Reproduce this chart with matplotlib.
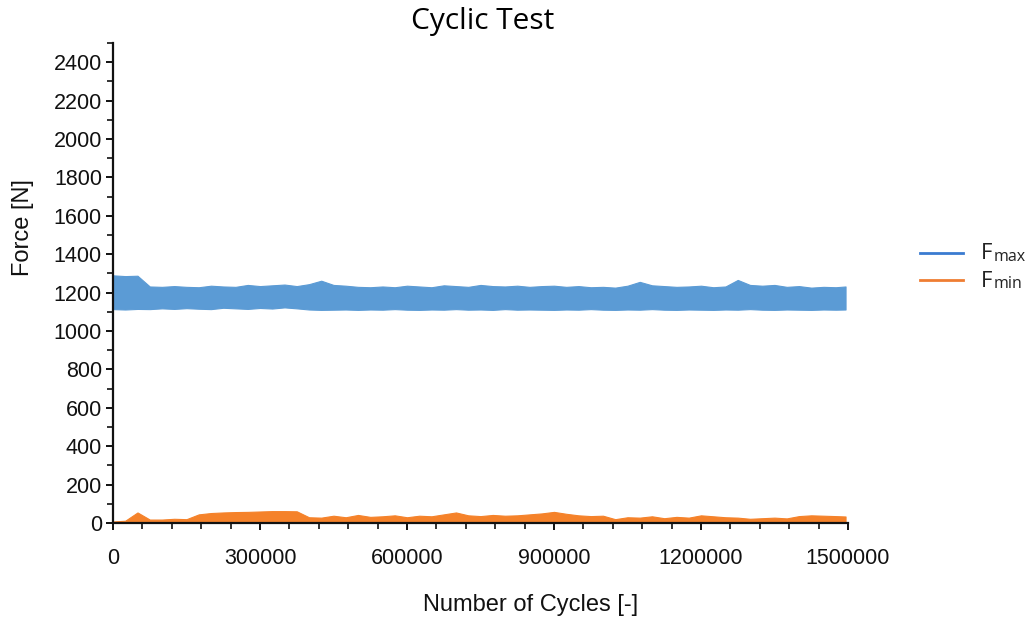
import matplotlib.pyplot as plt
from matplotlib.ticker import MultipleLocator
from matplotlib.lines import Line2D

# cycles sampled every 25000, last point at the end of the test
cycles = [0, 25000, 50000, 75000, 100000, 125000, 150000, 175000, 200000, 225000,
          250000, 275000, 300000, 325000, 350000, 375000, 400000, 425000, 450000, 475000,
          500000, 525000, 550000, 575000, 600000, 625000, 650000, 675000, 700000, 725000,
          750000, 775000, 800000, 825000, 850000, 875000, 900000, 925000, 950000, 975000,
          1000000, 1025000, 1050000, 1075000, 1100000, 1125000, 1150000, 1175000, 1200000, 1225000,
          1250000, 1275000, 1300000, 1325000, 1350000, 1375000, 1400000, 1425000, 1450000, 1475000,
          1495000]

# upper / lower envelope of the max force signal [N]
fmax_upper = [1290, 1286, 1288, 1232, 1230, 1234, 1230, 1228, 1236, 1232,
              1230, 1240, 1234, 1238, 1242, 1234, 1244, 1262, 1240, 1236,
              1230, 1228, 1232, 1228, 1236, 1232, 1228, 1238, 1234, 1230,
              1240, 1234, 1232, 1236, 1230, 1234, 1236, 1230, 1234, 1228,
              1230, 1226, 1236, 1256, 1238, 1234, 1230, 1232, 1236, 1228,
              1232, 1266, 1240, 1236, 1240, 1230, 1234, 1226, 1230, 1228,
              1232]
fmax_lower = [1114, 1112, 1115, 1114, 1118, 1115, 1119, 1116, 1114, 1121,
              1118, 1115, 1120, 1117, 1123, 1118, 1112, 1110, 1111, 1112,
              1110, 1112, 1111, 1114, 1111, 1110, 1112, 1111, 1114, 1111,
              1112, 1110, 1114, 1111, 1112, 1111, 1110, 1112, 1111, 1114,
              1111, 1110, 1112, 1111, 1114, 1111, 1110, 1112, 1111, 1110,
              1112, 1111, 1114, 1111, 1110, 1112, 1111, 1110, 1112, 1111,
              1112]

# upper envelope of the min force signal [N]
fmin_upper = [8, 12, 55, 18, 18, 22, 20, 45, 52, 55,
              57, 58, 60, 62, 62, 61, 30, 28, 38, 30,
              42, 32, 35, 40, 30, 38, 35, 45, 55, 40,
              36, 42, 38, 40, 45, 50, 58, 48, 40, 36,
              38, 20, 30, 28, 35, 25, 32, 28, 40, 35,
              30, 28, 22, 25, 28, 24, 36, 40, 38, 36,
              34]

title = 'Cyclic Test'
xlabel = 'Number of Cycles [-]'
ylabel = 'Force [N]'
xticks = [0, 300000, 600000, 900000, 1200000, 1500000]
yticks = list(range(0, 2401, 200))

blue_fill = '#5b9bd5'
orange_fill = '#f5822a'

plt.rcParams['font.family'] = ['Liberation Sans', 'DejaVu Sans']

fig = plt.figure(figsize=(10.31, 6.18), dpi=100)
ax = fig.add_axes([0.1096, 0.1537, 0.7129, 0.7767])

ax.fill_between(cycles, fmax_lower, fmax_upper, color=blue_fill, lw=0.8, edgecolor=blue_fill)
ax.fill_between(cycles, 0, fmin_upper, color=orange_fill, lw=0.8, edgecolor=orange_fill)

ax.set_xlim(0, 1500000)
ax.set_ylim(0, 2500)
ax.set_xticks(xticks)
ax.set_xticklabels([str(t) for t in xticks])
ax.set_yticks(yticks)
ax.xaxis.set_minor_locator(MultipleLocator(60000))
ax.yaxis.set_minor_locator(MultipleLocator(100))

for s in ['top', 'right']:
    ax.spines[s].set_visible(False)
for s in ['left', 'bottom']:
    ax.spines[s].set_linewidth(1.6)
    ax.spines[s].set_color('#111111')

ax.tick_params(which='major', length=5, width=1.4, labelsize=15.5, colors='#111111')
ax.tick_params(which='minor', length=4, width=1.2, colors='#111111')
ax.tick_params(axis='x', which='major', pad=13)
ax.tick_params(axis='y', which='major', pad=3)

# axis labels sit off-centre in the original, so place them on the figure
fig.text(531 / 1031, 1 - 605 / 618, xlabel, fontsize=17, ha='center', va='center', color='#111111')
fig.text(23 / 1031, 1 - 228 / 618, ylabel, fontsize=17, ha='center', va='center',
         rotation=90, color='#111111')
fig.text(483 / 1031, 1 - 22 / 618, title, ha='center', va='center', fontsize=21.5,
         family=['Open Sans', 'DejaVu Sans'], color='#000000')

# legend drawn by hand so the subscript stays on the baseline
legend_items = [('max', '#3a7bd0', 0.591), ('min', '#ef7d32', 0.547)]
for sub, col, yy in legend_items:
    fig.add_artist(Line2D([0.892, 0.934], [yy, yy], color=col, lw=2, transform=fig.transFigure))
    fig.text(0.951, yy - 0.002, 'F', fontsize=16, va='center', ha='left',
             family=['Open Sans', 'DejaVu Sans'], color='#222222')
    fig.text(0.964, yy - 0.007, sub, fontsize=11.5, va='center', ha='left',
             family=['Open Sans', 'DejaVu Sans'], color='#222222')

fig.savefig('out.png', dpi=100)
